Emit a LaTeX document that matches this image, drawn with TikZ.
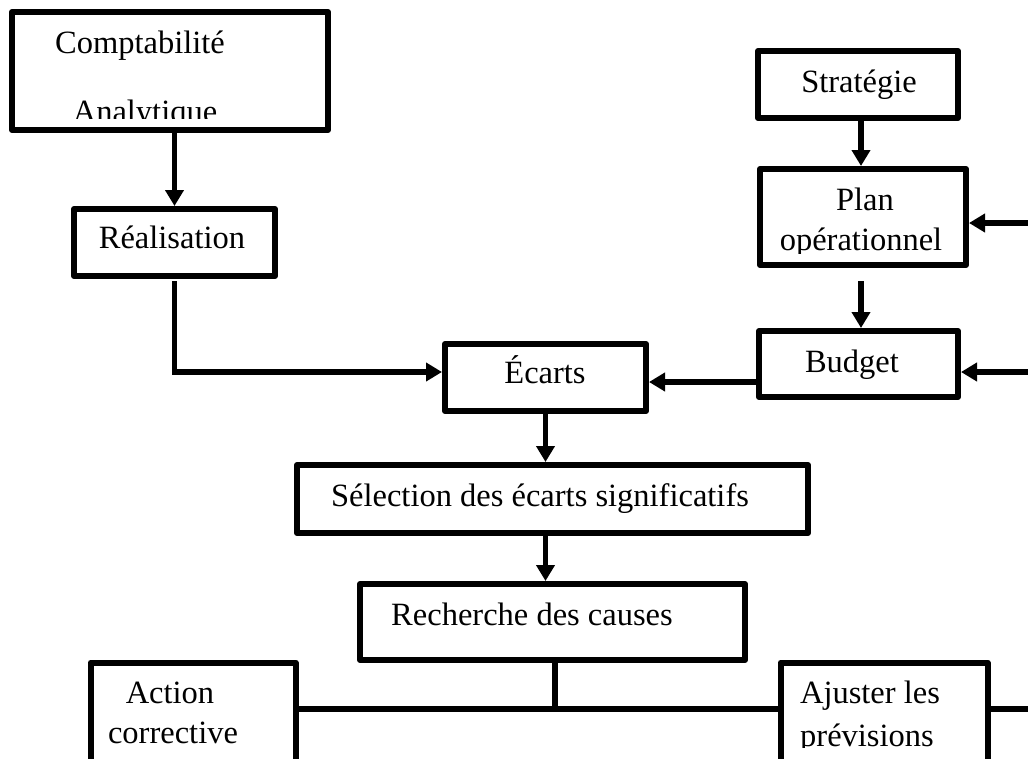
\documentclass[tikz,border=0pt]{standalone}
\usepackage{fontspec}
\setmainfont{Liberation Serif}
\usetikzlibrary{arrows.meta}
\begin{document}
\begin{tikzpicture}[x=1pt,y=-1pt,
  box/.style={draw, rectangle, line width=6pt, line join=round, inner sep=0pt},
  lbl/.style={anchor=base, inner sep=0pt, font=\fontsize{32.5}{38}\selectfont},
  link/.style={line width=5.5pt},
  arr/.style={link, -{Triangle[width=18pt,length=16pt]}},
]
\useasboundingbox (0,0) rectangle (1028,758);
\clip (0,0) rectangle (1028,758);

% boxes
\node[box, minimum width=316pt, minimum height=118pt] (comp)   at (170,71) {};
\node[box, minimum width=201pt, minimum height=67pt]  (real)   at (174.5,242.5) {};
\node[box, minimum width=200pt, minimum height=67pt]  (strat)  at (858,84.5) {};
\node[box, minimum width=206pt, minimum height=96pt]  (plan)   at (863,217) {};
\node[box, minimum width=199pt, minimum height=66pt]  (budget) at (858.5,364) {};
\node[box, minimum width=201pt, minimum height=67pt]  (ecarts) at (545.5,377.5) {};
\node[box, minimum width=511pt, minimum height=68pt]  (sel)    at (552.5,499) {};
\node[box, minimum width=385pt, minimum height=76pt]  (rech)   at (552.5,622) {};
\node[box, minimum width=205pt, minimum height=137pt] (action) at (193,731) {};
\node[box, minimum width=207pt, minimum height=137pt] (ajust)  at (884,731) {};

% labels
\node[lbl] (tcomp) at (140,53) {Comptabilité};
\begin{scope}
  \clip (15,0) rectangle (325,118);
  \node[lbl] (tana) at (145,122) {Analytique};
\end{scope}
\node[lbl] (treal) at (172,248) {Réalisation};
\node[lbl] (tstrat) at (859,92) {Stratégie};
\node[lbl] (tplan) at (865,210) {Plan};
\begin{scope}
  \clip (763,180) rectangle (963,253);
  \node[lbl] (topl) at (861,250) {opérationnel};
\end{scope}
\node[lbl] (tecarts) at (545,383) {Écarts};
\node[lbl] (tbudget) at (852,372) {Budget};
\node[lbl] (tsel) at (540,506) {Sélection des écarts significatifs};
\node[lbl] (trech) at (532,625) {Recherche des causes};
\node[lbl] (tact) at (170,703) {Action};
\node[lbl] (tcorr) at (173,743) {corrective};
\node[lbl] (tajust) at (870,703) {Ajuster les};
\begin{scope}
  \clip (783,670) rectangle (985,747);
  \node[lbl] (tprev) at (867,746) {prévisions};
\end{scope}

% connectors
\draw[arr] (real.north |- comp.south) -- (real.north);
\coordinate (ew) at ([yshift=5.5pt]ecarts.west);
\draw[arr] ([yshift=-2pt]real.south) |- (ew);
\coordinate (ee) at ([yshift=-4.5pt]ecarts.east);
\draw[arr] (budget.west |- ee) -- (ee);

\coordinate (sp) at ([xshift=3pt]strat.south);
\draw[arr] (sp) -- (sp |- plan.north);
\coordinate (pb) at ([xshift=-2pt,yshift=-13pt]plan.south);
\draw[arr] (pb) -- (pb |- budget.north);

\coordinate (rp) at (1028,223);
\draw[arr] (rp) -- (rp -| plan.east);
\coordinate (rb) at (1028,372);
\draw[arr] (rb) -- (rb -| budget.east);

\draw[arr] (ecarts.south) -- (ecarts.south |- sel.north);
\draw[arr] (ecarts.south |- sel.south) -- (ecarts.south |- rech.north);

\coordinate (j) at (555,709);
\draw[link] (rech.south -| j) -- (j);
\draw[link] (action.east |- j) -- (ajust.west |- j);
\coordinate (rj) at (1028,709);
\draw[link] (ajust.east |- j) -- (rj);
\end{tikzpicture}
\end{document}
